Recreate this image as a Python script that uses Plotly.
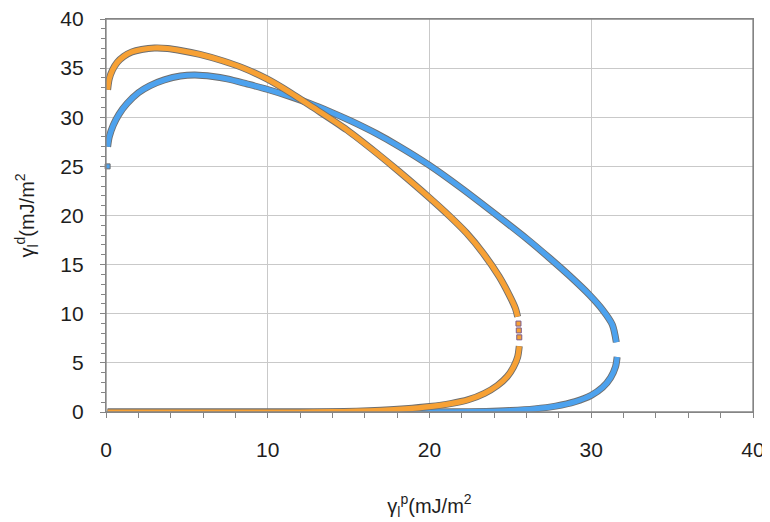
import plotly.graph_objects as go

# ---- data ----
orange_upper_x = [0.1, 0.2, 0.4, 0.7, 1.1, 1.6, 2.2, 3.0, 3.8, 4.6, 5.8, 7.2, 8.5, 9.95,
                  11.4, 12.8, 14.9, 16.7, 18.1, 20.0, 21.2, 22.3, 23.3, 24.3, 24.9, 25.3, 25.45]
orange_upper_y = [32.8, 33.9, 34.8, 35.6, 36.2, 36.65, 36.9, 37.05, 37.0, 36.8, 36.4, 35.75, 35.0, 33.9,
                  32.5, 31.0, 28.7, 26.4, 24.5, 21.8, 20.0, 18.2, 16.2, 13.8, 12.0, 10.6, 9.7]
orange_dots_x = [25.5, 25.52, 25.55]
orange_dots_y = [9.0, 8.3, 7.6]
orange_lower_x = [25.55, 25.45, 25.2, 24.8, 24.2, 23.4, 22.4, 21.3, 20.0, 18.5, 17.0, 15.5, 14.0, 12.0, 8.0, 4.0, 0.1]
orange_lower_y = [6.7, 5.6, 4.6, 3.6, 2.7, 1.9, 1.25, 0.85, 0.55, 0.32, 0.17, 0.08, 0.03, 0.0, 0.0, 0.0, 0.0]

blue_upper_x = [0.1, 0.2, 0.45, 0.8, 1.3, 2.0, 2.7, 3.6, 4.6, 5.5, 6.6, 7.5, 8.7, 9.95,
                11.4, 12.6, 13.8, 15.1, 16.7, 18.1, 20.0, 22.0, 24.3, 26.0, 27.4, 28.7, 29.9, 30.7, 31.3, 31.55]
blue_upper_y = [27.0, 28.0, 29.2, 30.3, 31.4, 32.5, 33.2, 33.8, 34.2, 34.3, 34.15, 33.9, 33.4, 32.85,
                32.1, 31.4, 30.6, 29.65, 28.35, 27.05, 25.1, 22.75, 19.85, 17.65, 15.7, 13.8, 11.9, 10.4, 8.9, 7.1]
blue_dot_x = [0.1]
blue_dot_y = [25.0]
blue_lower_x = [31.6, 31.5, 31.2, 30.7, 30.0, 29.0, 27.8, 26.5, 25.0, 23.5, 21.5, 19.0, 12.0, 6.0, 0.1]
blue_lower_y = [5.6, 4.6, 3.5, 2.5, 1.7, 1.05, 0.6, 0.32, 0.15, 0.06, 0.02, 0.0, 0.0, 0.0, 0.0]

x_ticks = [0, 10, 20, 30, 40]
y_ticks = [0, 5, 10, 15, 20, 25, 30, 35, 40]

ORANGE = "#F7A135"
BLUE = "#4DA2EE"
SHADOW = "#6f6f6f"
BORDER = "#858585"
FONT = "Liberation Sans, Arial, sans-serif"

fig = go.Figure()


def add_curve(xs_list, ys_list, color):
    for xs, ys in zip(xs_list, ys_list):
        fig.add_trace(go.Scatter(x=xs, y=ys, mode="lines",
                                 line=dict(color=SHADOW, width=7, shape="spline", smoothing=0.8),
                                 cliponaxis=False, hoverinfo="skip", showlegend=False))
        fig.add_trace(go.Scatter(x=xs, y=ys, mode="lines",
                                 line=dict(color=color, width=5.2, shape="spline", smoothing=0.8),
                                 cliponaxis=False, showlegend=False))


add_curve([blue_upper_x, blue_lower_x], [blue_upper_y, blue_lower_y], BLUE)
fig.add_trace(go.Scatter(x=blue_dot_x, y=blue_dot_y, mode="markers",
                         marker=dict(color=BLUE, size=5, symbol="square", line=dict(color=SHADOW, width=1)),
                         cliponaxis=False, showlegend=False))
add_curve([orange_upper_x, orange_lower_x], [orange_upper_y, orange_lower_y], ORANGE)
fig.add_trace(go.Scatter(x=orange_dots_x, y=orange_dots_y, mode="markers",
                         marker=dict(color=ORANGE, size=5, symbol="square", line=dict(color="#7a5a8a", width=1)),
                         cliponaxis=False, showlegend=False))

axis_common = dict(
    showline=True, linecolor=BORDER, linewidth=1.3, mirror=True,
    showgrid=True, gridcolor="#c9c9c9", gridwidth=1, automargin=False,
    ticklabeloverflow="allow",
    zeroline=False, ticks="outside", ticklen=5, tickcolor=BORDER, tickwidth=1,
    tickfont=dict(family=FONT, size=21, color="#1e1e1e"),
)

# the page body adds an 8px offset, so the figure is sized/margined to compensate
fig.update_layout(
    width=762, height=514,
    margin=dict(l=98, r=17, t=11, b=110),
    paper_bgcolor="white", plot_bgcolor="white",
    font=dict(family=FONT, color="#1e1e1e"),
    xaxis=dict(range=[0, 40], tickvals=x_ticks, ticklabelstandoff=14,
               minor=dict(dtick=2, ticks="outside", ticklen=5, tickcolor=BORDER, showgrid=False),
               title=dict(text="γ<sub>l</sub><sup>p</sup>(mJ/m<sup>2</sup>", standoff=38,
                          font=dict(size=20, family=FONT, color="#1e1e1e")),
               **axis_common),
    yaxis=dict(range=[0, 40], tickvals=y_ticks, ticklabelstandoff=12,
               minor=dict(dtick=1, ticks="outside", ticklen=4, tickcolor=BORDER, showgrid=False),
               title=dict(text="γ<sub>l</sub><sup>d</sup>(mJ/m<sup>2</sup>", standoff=20,
                          font=dict(size=20, family=FONT, color="#1e1e1e")),
               **axis_common),
    shapes=[dict(type="rect", xref="paper", yref="paper", x0=0, x1=1, y0=0, y1=1,
                 line=dict(color=BORDER, width=1.3), layer="above")],
)

fig.write_html("out.html")
